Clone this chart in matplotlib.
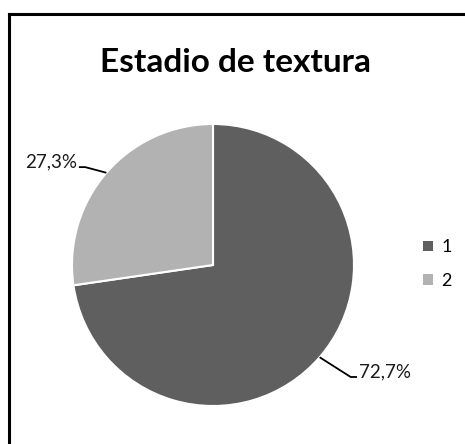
import numpy as np
import matplotlib.pyplot as plt
from matplotlib.patches import Patch
from matplotlib.lines import Line2D

# --- data ---
categories = ["1", "2"]
values = [72.7, 27.3]
colors = ["#5f5f5f", "#b2b2b2"]
title = "Estadio de textura"

plt.rcParams['font.family'] = ['Lato', 'DejaVu Sans']

W, H = 465, 444
fig = plt.figure(figsize=(W / 100, H / 100), dpi=100)

# pie sits in a square box (pixels: centre 213,265 ; radius 141)
cx, cy, r = 213, 265, 141
ax = fig.add_axes([(cx - r) / W, (H - cy - r) / H, 2 * r / W, 2 * r / H])
wedges, _ = ax.pie(values, colors=colors, startangle=90, counterclock=False,
                   wedgeprops=dict(edgecolor="white", linewidth=1.5))
ax.set_xlim(-1, 1)
ax.set_ylim(-1, 1)
ax.set_aspect("equal")

# leader lines: edge point -> elbow -> short horizontal tail, label after it
leader = [
    # (elbow dx, elbow dy, direction)
    (0.22, -0.14, 1),
    (-0.15, 0.04, -1),
]
for w, v, (ex, ey, d) in zip(wedges, values, leader):
    ang = np.deg2rad((w.theta1 + w.theta2) / 2)
    x0, y0 = np.cos(ang), np.sin(ang)
    x1, y1 = x0 + ex, y0 + ey
    x2 = x1 + d * 0.045
    ax.plot([x0, x1, x2], [y0, y1, y1], color="black", lw=1.3, clip_on=False,
            solid_capstyle="butt")
    ax.text(x2 + d * 0.015, y1 - 0.005, f"{v:.1f}%".replace(".", ","),
            ha="left" if d > 0 else "right", va="baseline",
            fontsize=13.5, color="#1a1a1a")

fig.text(235 / W, 1 - 63 / H, title, ha="center", va="center",
         fontsize=24, fontweight="bold", color="black")

handles = [Patch(facecolor=c, edgecolor="none") for c in colors]
fig.legend(handles, categories, loc="center left", bbox_to_anchor=(423 / W, 1 - 264 / H),
           frameon=False, fontsize=13, handlelength=0.55, handleheight=0.55,
           handletextpad=0.45, labelspacing=0.95, borderpad=0, borderaxespad=0)

# chart border (only left and top edges fall inside the image)
fig.add_artist(Line2D([9 / W, 9 / W], [0, 1 - 14 / H], color="black", lw=2.2,
                      transform=fig.transFigure))
fig.add_artist(Line2D([9 / W, 1], [1 - 14 / H, 1 - 14 / H], color="black", lw=2.2,
                      transform=fig.transFigure))

fig.savefig("out.png", dpi=100)
